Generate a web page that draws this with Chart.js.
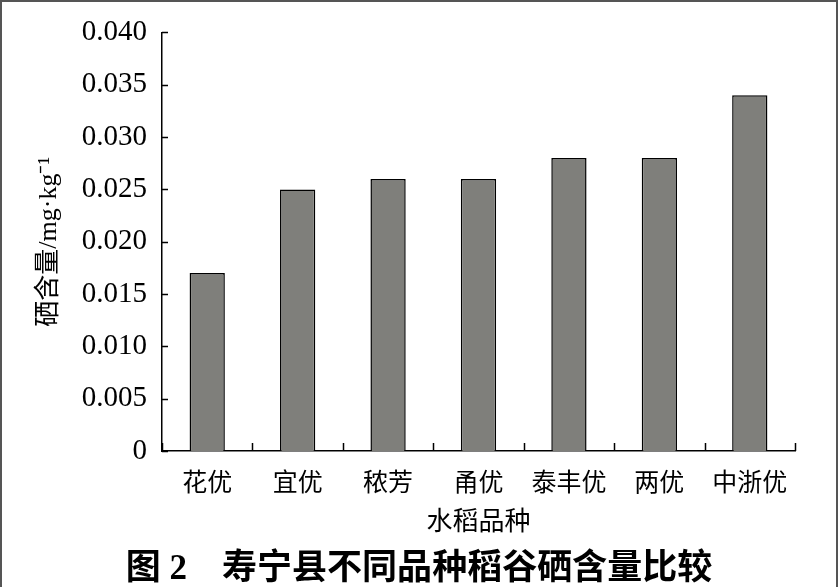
<!DOCTYPE html>
<html>
<head>
<meta charset="utf-8">
<script src="https://cdn.jsdelivr.net/npm/chart.js@4/dist/chart.umd.min.js"></script>
<style>
  html, body { margin: 0; padding: 0; background: #fff; }
  #wrap { position: relative; width: 838px; height: 587px; }
  #frame { position: absolute; left: 0; top: 0; width: 834px; height: 590px;
           border: 2px solid #555; pointer-events: none; }
</style>
</head>
<body>
<div id="wrap">
  <canvas id="seChart" width="838" height="587"></canvas>
  <div id="frame"></div>
</div>
<script>
// 水稻品种
var categories = ['花优', '宜优', '秾芳', '甬优', '泰丰优', '两优', '中浙优'];
// 硒含量 mg/kg
var seValues = [0.017, 0.025, 0.026, 0.026, 0.028, 0.028, 0.034];
var yMin = 0, yMax = 0.040, yStep = 0.005;

var serifCJK = '"Liberation Serif", "Noto Sans CJK SC"';

// 坐标轴内侧刻度线
var innerTicks = {
  id: 'innerTicks',
  afterDraw: function (chart) {
    var ctx = chart.ctx;
    var x = chart.scales.x, y = chart.scales.y;
    var area = chart.chartArea;
    ctx.save();
    ctx.strokeStyle = '#000';
    ctx.lineWidth = 1.5;
    ctx.beginPath();
    y.ticks.forEach(function (t, i) {
      var py = Math.round(y.getPixelForTick(i)) + 0.5;
      ctx.moveTo(area.left, py);
      ctx.lineTo(area.left + 6, py);
    });
    for (var i = 0; i <= categories.length; i++) {
      var px = Math.round(x.getPixelForValue(i - 0.5)) + 0.5;
      ctx.moveTo(px, area.bottom);
      ctx.lineTo(px, area.bottom - 8);
    }
    ctx.stroke();
    ctx.restore();
  }
};

var ctx = document.getElementById('seChart').getContext('2d');
var seChart = new Chart(ctx, {
  type: 'bar',
  data: {
    labels: categories,
    datasets: [{
      data: seValues,
      backgroundColor: '#7f7f7b',
      borderColor: '#000',
      borderWidth: 1.5,
      categoryPercentage: 1,
      barPercentage: 0.39
    }]
  },
  options: {
    responsive: false,
    animation: false,
    layout: { padding: { left: 0, right: 0, top: 26, bottom: 0 } },
    plugins: {
      legend: { display: false },
      tooltip: { enabled: false },
      title: {
        display: true,
        position: 'bottom',
        text: '图 2　寿宁县不同品种稻谷硒含量比较',
        color: '#000',
        font: { family: serifCJK, size: 35, weight: 'bold', lineHeight: 1.0 },
        padding: { top: 0, bottom: 0 }
      }
    },
    scales: {
      x: {
        grid: { display: false, drawTicks: false },
        border: { color: '#000', width: 1.5 },
        ticks: {
          color: '#000',
          padding: 15,
          font: { family: '"Noto Sans CJK SC"', size: 25 }
        },
        title: {
          display: true,
          text: '水稻品种',
          color: '#000',
          font: { family: '"Noto Sans CJK SC"', size: 26 },
          padding: { top: 10, bottom: 16 }
        },
        afterFit: function (scale) { scale.height = 101; }
      },
      y: {
        min: yMin,
        max: yMax,
        grid: { display: false, drawTicks: false },
        border: { color: '#000', width: 1.5 },
        ticks: {
          stepSize: yStep,
          color: '#000',
          padding: 15,
          font: { family: '"Liberation Serif"', size: 29 },
          callback: function (v) { return v === 0 ? '0' : v.toFixed(3); }
        },
        title: {
          display: true,
          text: '硒含量/mg·kg⁻¹',
          color: '#000',
          font: { family: serifCJK, size: 26 },
          padding: { top: 34, bottom: 0 }
        },
        afterFit: function (scale) { scale.width = 162; }
      },
      // 右侧留白
      yRight: {
        position: 'right',
        display: true,
        grid: { display: false, drawTicks: false },
        border: { display: false },
        ticks: { display: false },
        afterFit: function (scale) { scale.width = 43; }
      }
    }
  },
  plugins: [innerTicks]
});
</script>
</body>
</html>
